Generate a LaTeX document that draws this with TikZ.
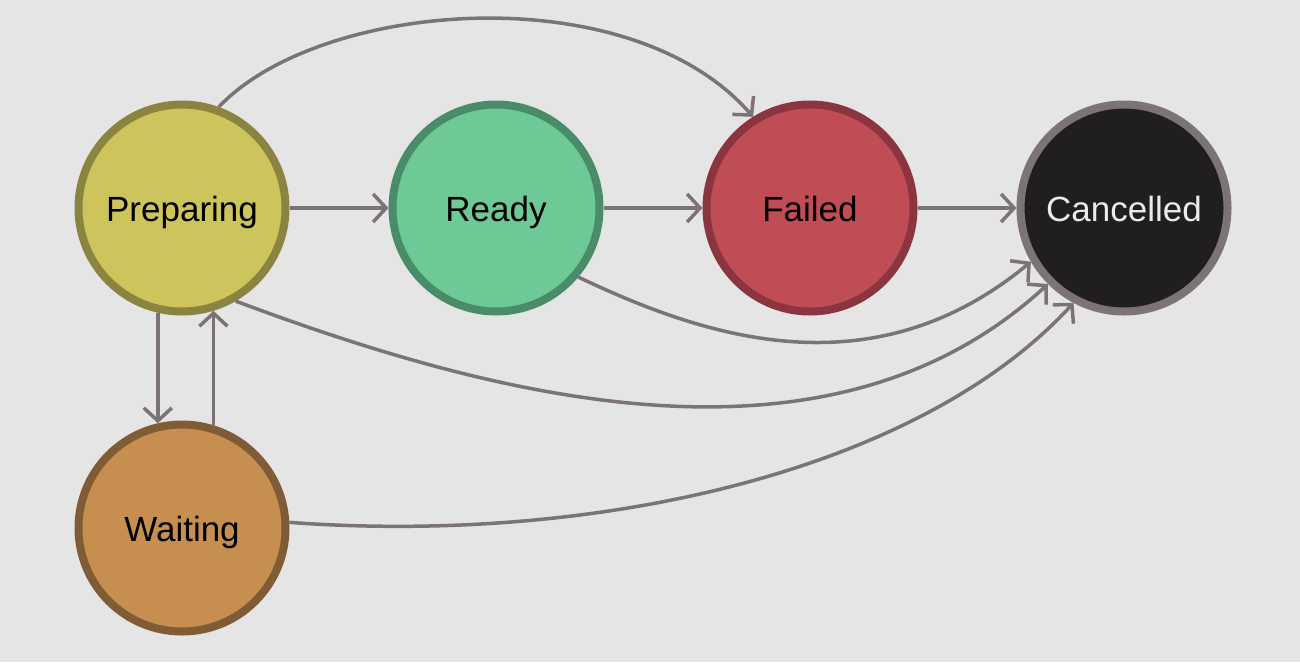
\documentclass[tikz,border=0pt]{standalone}
\usepackage{fontspec}
\setmainfont{Liberation Sans}
\usetikzlibrary{arrows.meta}
\definecolor{bg}{HTML}{E5E5E5}
\definecolor{edgec}{HTML}{7B7375}
\definecolor{prepF}{HTML}{CDC55C}\definecolor{prepD}{HTML}{8A8440}
\definecolor{readyF}{HTML}{6DCA96}\definecolor{readyD}{HTML}{4A8C67}
\definecolor{failF}{HTML}{C04D55}\definecolor{failD}{HTML}{8B3540}
\definecolor{cancF}{HTML}{201E1F}\definecolor{cancD}{HTML}{7B7375}
\definecolor{waitF}{HTML}{C68F50}\definecolor{waitD}{HTML}{7F5C35}
\begin{document}
\begin{tikzpicture}[x=1pt,y=-1pt,
  state/.style={circle,minimum size=207pt,inner sep=0pt,line width=8pt,
    text height=27pt,text depth=0pt,
    font=\fontsize{35}{42}\selectfont},
  edge/.style={draw=edgec,line width=3.5pt,
    -{Straight Barb[length=13pt,width=28pt,line width=3.5pt]}}]
\fill[bg] (0,0) rectangle (1300,662);
\useasboundingbox (0,0) rectangle (1300,662);
\node[state,fill=prepF,draw=prepD] (prep) at (182,208) {Preparing};
\node[state,fill=readyF,draw=readyD] (ready) at (496,208) {Ready};
\node[state,fill=failF,draw=failD] (fail) at (810,208) {Failed};
\node[state,fill=cancF,draw=cancD,text=white!92!black] (canc) at (1124,208) {Cancelled};
\node[state,fill=waitF,draw=waitD] (wait) at (182,528) {Waiting};
\draw[edge] (prep.70) .. controls (320,0) and (630,-25) .. (fail.122);
\draw[edge] (prep) -- (ready);
\draw[edge] (ready) -- (fail);
\draw[edge] (fail) -- (canc);
\draw[edge] (ready.-40) .. controls (700,335) and (870,395) .. (canc.-150);
\draw[edge] (prep.-60) .. controls (500,400) and (830,485) .. (canc.-135);
\draw[edge] (wait.3) .. controls (600,545) and (920,470) .. (canc.-118);
\draw[edge] (prep.-103) -- (wait.103);
\draw[edge] (wait.73) -- (prep.-73);
\end{tikzpicture}
\end{document}
